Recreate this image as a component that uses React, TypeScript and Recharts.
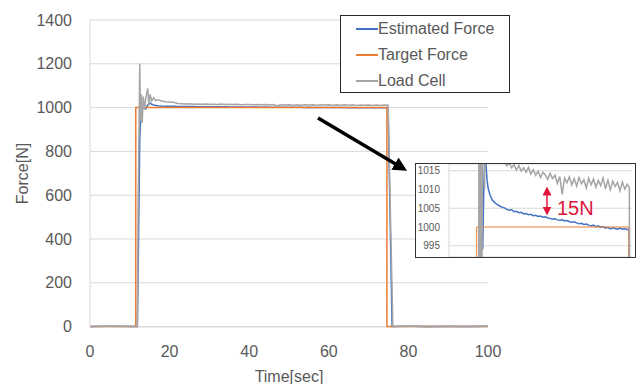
import { LineChart, Line, XAxis, YAxis, CartesianGrid } from "recharts";

const FONT = "Liberation Sans";
const TEXT = "#595959";
const GRID = "#d9d9d9";

const timeTicks = [0, 20, 40, 60, 80, 100];
const forceTicks = [0, 200, 400, 600, 800, 1000, 1200, 1400];
const insetTicks = [995, 1000, 1005, 1010, 1015];

// Target force: a square step
const targetTime = [0, 11.5, 11.5, 74.6, 74.6, 100];
const targetForce = [0, 0, 1000, 1000, 0, 0];

// Estimated force
const estTime = [
  0, 5, 11.9, 12.2, 12.5, 12.8, 13.2, 13.6, 14.0, 14.5, 15.0, 15.4, 15.8, 16.3, 17, 18, 19, 20,
  21, 22, 23, 24, 25, 26, 27, 28, 29, 30, 31, 32, 33, 34, 35, 36, 37, 38, 39, 40,
  41, 42, 43, 44, 45, 46, 47, 48, 49, 50, 51, 52, 53, 54, 55, 56, 57, 58, 59, 60,
  61, 62, 63, 64, 65, 66, 67, 68, 69, 70, 71, 72, 73, 74, 74.9, 75.3, 75.9, 80, 90, 100,
];
const estForce = [
  0, 1, 0, 400, 850, 985, 1002, 998, 994, 1012, 1022, 1016.3, 1012.5, 1010.2, 1008.6, 1007.2, 1006.5, 1006.0,
  1005.6, 1005.3, 1005.1, 1004.7, 1004.5, 1004.6, 1004.1, 1004.2, 1003.8, 1003.9, 1003.5, 1003.6, 1003.3, 1003.4, 1003.0, 1003.1, 1002.8, 1002.9, 1002.6, 1002.7,
  1002.4, 1002.3, 1002.1, 1002.2, 1001.9, 1001.8, 1001.9, 1001.6, 1001.7, 1001.4, 1001.3, 1001.4, 1001.1, 1000.9, 1001.0, 1000.7, 1000.8, 1000.5, 1000.3, 1000.5,
  1000.1, 1000.3, 999.9, 1000.1, 999.7, 999.9, 999.5, 999.8, 999.6, 999.4, 999.7, 999.4, 999.6, 999.3, 999.5, 600, 0, 1, 0, 1,
];

// Load cell measurement
const loadTime = [
  0, 5, 11.9, 12.1, 12.3, 12.5, 12.7, 12.9, 13.1, 13.4, 13.7, 14.0, 14.5, 14.8, 15.1, 15.5, 16, 16.5, 17, 18, 19, 20,
  21, 22, 23, 24, 25, 26, 27, 28, 29, 30, 31, 32, 33, 34, 35, 36, 37, 38, 39, 40,
  41, 42, 43, 44, 45, 46, 47, 48, 49, 50, 51, 52, 53, 54, 55, 56, 57, 58, 59, 60,
  61, 62, 63, 64, 65, 66, 67, 68, 69, 70, 71, 72, 73, 74, 74.9, 75.5, 76.1, 80, 85, 90, 95, 100,
];
const loadForce = [
  0, 2, 0, 580, 880, 1200, 940, 1060, 930, 1050, 990, 1040, 1088, 1010, 1060, 1030, 1045, 1032, 1036, 1030, 1027, 1026,
  1024, 1019, 1017.5, 1016.3, 1017.1, 1015.8, 1016.6, 1015.2, 1016.4, 1014.9, 1015.8, 1014.6, 1015.9, 1014.1, 1015.3, 1013.8, 1014.9, 1013.2, 1014.6, 1013.9,
  1012.7, 1014.3, 1012.9, 1013.8, 1011.6, 1013.5, 1008.7, 1013.1, 1011.8, 1013.4, 1011.2, 1012.9, 1010.9, 1013.2, 1011.5, 1012.6, 1010.4, 1013.0, 1011.3, 1012.8,
  1010.6, 1012.4, 1011.0, 1013.1, 1010.2, 1012.5, 1009.9, 1012.2, 1010.8, 1011.9, 1009.6, 1012.0, 1010.1, 1011.4, 1010.5, 500, 0, 3, -2, 2, -1, 1,
];

const toPoints = (ts: number[], vs: number[]) => ts.map((t, i) => ({ t, f: vs[i] }));
const targetData = toPoints(targetTime, targetForce);
const estData = toPoints(estTime, estForce);
const loadData = toPoints(loadTime, loadForce);

const series = [
  { name: "Estimated Force", color: "#4472C4", data: estData },
  { name: "Target Force", color: "#ED7D31", data: targetData },
  { name: "Load Cell", color: "#A5A5A5", data: loadData },
];

function LegendBox() {
  return (
    <div
      style={{
        position: "absolute",
        left: 340,
        top: 15,
        width: 168,
        height: 76,
        border: "1px solid #262626",
        background: "#fff",
        fontFamily: FONT,
        fontSize: 16,
        color: TEXT,
      }}
    >
      {series.map((s) => (
        <div key={s.name} style={{ display: "flex", alignItems: "center", height: 26, paddingLeft: 15 }}>
          <div style={{ width: 22, height: 2, background: s.color }} />
          <span>{s.name}</span>
        </div>
      ))}
    </div>
  );
}

function Inset() {
  return (
    <div
      style={{
        position: "absolute",
        left: 415,
        top: 163,
        width: 221,
        height: 95,
        boxSizing: "border-box",
        border: "1px solid #333",
        background: "#fff",
      }}
    >
      <LineChart width={219} height={93} margin={{ top: 0, right: 3, bottom: 0, left: 0 }}>
        <CartesianGrid vertical={false} stroke={GRID} />
        <XAxis dataKey="t" type="number" domain={[0, 76]} allowDataOverflow hide />
        <YAxis
          type="number"
          domain={[992, 1016.8]}
          ticks={insetTicks}
          allowDataOverflow
          width={33}
          tickSize={0}
          tickMargin={9}
          axisLine={{ stroke: GRID }}
          tickLine={false}
          tick={{ fill: TEXT, fontSize: 10, fontFamily: FONT }}
        />
        {series.map((s) => (
          <Line
            key={s.name}
            data={s.data}
            dataKey="f"
            type="linear"
            stroke={s.color}
            strokeWidth={s.name === "Target Force" ? 1 : 1.5}
            dot={false}
            isAnimationActive={false}
          />
        ))}
      </LineChart>
    </div>
  );
}

export default function App() {
  return (
    <div style={{ position: "absolute", left: 0, top: 0, width: 641, height: 384, background: "#fff" }}>
      <LineChart width={641} height={384} margin={{ top: 20, right: 153, bottom: 0, left: 0 }}>
        <CartesianGrid vertical={false} stroke={GRID} />
        <XAxis
          dataKey="t"
          type="number"
          domain={[0, 100]}
          ticks={timeTicks}
          height={57}
          tickSize={0}
          tickMargin={19}
          axisLine={false}
          tickLine={false}
          tick={{ fill: TEXT, fontSize: 16, fontFamily: FONT }}
          label={{ value: "Time[sec]", position: "insideBottom", offset: 2, fill: TEXT, fontSize: 16, fontFamily: FONT }}
        />
        <YAxis
          type="number"
          domain={[0, 1400]}
          ticks={forceTicks}
          width={90}
          tickSize={0}
          tickMargin={18}
          axisLine={{ stroke: GRID }}
          tickLine={false}
          tick={{ fill: TEXT, fontSize: 16, fontFamily: FONT }}
          label={{ value: "Force[N]", angle: -90, position: "center", dx: -23, fill: TEXT, fontSize: 16, fontFamily: FONT }}
        />
        {series.map((s) => (
          <Line
            key={s.name}
            data={s.data}
            dataKey="f"
            name={s.name}
            type="linear"
            stroke={s.color}
            strokeWidth={1.5}
            dot={false}
            isAnimationActive={false}
          />
        ))}
      </LineChart>
      <LegendBox />
      <Inset />
      <svg
        width={641}
        height={384}
        style={{ position: "absolute", left: 0, top: 0, pointerEvents: "none" }}
      >
        <defs>
          <marker id="blk" markerWidth="4" markerHeight="4" refX="3" refY="2" orient="auto" markerUnits="strokeWidth">
            <path d="M0,0 L4,2 L0,4 z" fill="#000" />
          </marker>
          <marker id="red" markerWidth="6" markerHeight="6" refX="5" refY="3" orient="auto-start-reverse" markerUnits="strokeWidth">
            <path d="M0,0 L6,3 L0,6 z" fill="#E0143C" />
          </marker>
        </defs>
        <line x1={318} y1={118} x2={404} y2={169} stroke="#000" strokeWidth={3.5} markerEnd="url(#blk)" />
        <line x1={547} y1={188} x2={547} y2={214} stroke="#E0143C" strokeWidth={1.5} markerStart="url(#red)" markerEnd="url(#red)" />
        <text x={557} y={215} fill="#E0143C" fontSize={20} fontFamily={FONT}>
          15N
        </text>
      </svg>
    </div>
  );
}
